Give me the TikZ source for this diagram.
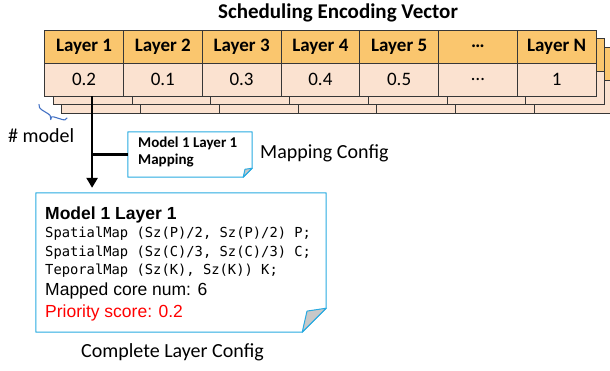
\documentclass[tikz,border=0pt]{standalone}
\usepackage{fontspec}
\setmainfont{Carlito}
\newfontfamily\arialfont{Liberation Sans}
\newfontfamily\codefont{DejaVu Sans Mono}
\usetikzlibrary{arrows.meta,calc}

\definecolor{hdrorange}{RGB}{250,198,110}
\definecolor{valpeach}{RGB}{251,226,208}
\definecolor{gridgray}{RGB}{55,55,55}
\definecolor{noteblue}{RGB}{40,170,225}
\definecolor{bracebl}{RGB}{68,114,196}
\definecolor{foldgray}{RGB}{200,200,200}
\definecolor{prioRed}{RGB}{255,0,0}

% outline of a note with a folded bottom-right corner, drawn round node #1
\newcommand\drawnote[2]{%
  \draw[noteblue, line width=1pt, line join=round]
    (#1.north west) -- (#1.north east) -- ($(#1.south east)+(0,-#2)$)
    -- ($(#1.south east)+(-#2,0)$) -- (#1.south west) -- cycle;
  \filldraw[draw=noteblue, fill=foldgray, line width=1pt, line join=round]
    ($(#1.south east)+(-#2,0)$) -- ($(#1.south east)+(0,-#2)$)
    -- ($(#1.south east)+(-0.8*#2,-0.88*#2)$) -- cycle;
}

\begin{document}
\begin{tikzpicture}[x=1pt,y=-1pt,
  cellbase/.style={draw=gridgray, line width=0.9pt, minimum width=78.76pt,
    minimum height=33pt, inner sep=0pt},
  hdrcell/.style={cellbase, fill=hdrorange, font=\fontsize{19}{22}\selectfont\bfseries},
  valcell/.style={cellbase, fill=valpeach, font=\fontsize{19}{22}\selectfont},
  notebox/.style={draw=none, inner sep=0pt},
  label/.style={anchor=base west, inner sep=0pt, font=\fontsize{20}{24}\selectfont},
  boxline/.style={anchor=base west, inner sep=0pt},
  flow/.style={line width=2.6pt, draw=black},
]
\useasboundingbox (0,0) rectangle (610,370);

% stacked copies of the vector behind the front one
\foreach \k in {2,1}{
  \pgfmathsetmacro\off{8.5*\k}
  \foreach \i in {0,...,6}{
    \filldraw[fill=hdrorange, draw=gridgray, line width=0.9pt]
      ({44.7+\off+\i*78.76},{30+\off}) rectangle ++(78.76,33);
    \filldraw[fill=valpeach, draw=gridgray, line width=0.9pt]
      ({44.7+\off+\i*78.76},{63+\off}) rectangle ++(78.76,33);
  }
}

% front vector: layer names and scores
\foreach \lab [count=\i] in {Layer 1,Layer 2,Layer 3,Layer 4,Layer 5,…,Layer N}
  \node[hdrcell] (h\i) at ({44.7+(\i-0.5)*78.76},46.5) {\lab};
\foreach \val [count=\i] in {0.2,0.1,0.3,0.4,0.5,…,1}
  \node[valcell] (v\i) at ({44.7+(\i-0.5)*78.76},79.5) {\val};

\node[font=\fontsize{21}{25}\selectfont\bfseries] (title) at (338,12.5)
  {Scheduling Encoding Vector};

% depth of the stack: a small slanted brace
\draw[bracebl, line width=1.1pt, line join=round, line cap=round]
  (39,104.5) .. controls (39.3,108) .. (42,110)
  -- (48.5,114) .. controls (50.3,115.2) .. (50.8,119.5)
  .. controls (51.4,116.4) .. (53.5,116.8)
  -- (62.5,119.6) .. controls (65,120.3) .. (67,118);
\node[label] (nmodel) at (8,142) {\# model};

% mapping note
\node[notebox, minimum width=124pt, minimum height=45pt] (map) at (190,154.5) {};
\drawnote{map}{9}
\node[boxline, font=\fontsize{15}{17}\selectfont\bfseries] (mapA) at (138,147) {Model 1 Layer 1};
\node[boxline, font=\fontsize{15}{17}\selectfont\bfseries] (mapB) at (138,164) {Mapping};
\node[label] (mapcfg) at (260,158) {Mapping Config};

% complete layer configuration note
\node[notebox, minimum width=290pt, minimum height=139pt] (cfg) at (181,262.5) {};
\drawnote{cfg}{24}
\node[boxline, font=\arialfont\fontsize{17.5}{20}\selectfont\bfseries] (cfgT) at (45,219) {Model 1 Layer 1};
\node[boxline, font=\codefont\fontsize{13.8}{16}\selectfont] (code1) at (45,237) {SpatialMap (Sz(P)/2, Sz(P)/2) P;};
\node[boxline, font=\codefont\fontsize{13.8}{16}\selectfont] (code2) at (45,256) {SpatialMap (Sz(C)/3, Sz(C)/3) C;};
\node[boxline, font=\codefont\fontsize{13.8}{16}\selectfont] (code3) at (45,274) {TeporalMap (Sz(K), Sz(K)) K;};
\node[boxline, font=\arialfont\fontsize{17.5}{20}\selectfont] (cores) at (45,295) {Mapped core num: 6};
\node[boxline, font=\arialfont\fontsize{17.5}{20}\selectfont, text=prioRed] (prio) at (45,317) {Priority score: 0.2};
\node[label] (cfgcap) at (81,357) {Complete Layer Config};

% flow from layer 1 down to its configuration
\coordinate (armtop) at ($(v1.south)+(8,0)$);
\draw[flow] (map.west) -- (map.west -| armtop);
\draw[flow, -{Triangle[width=11pt,length=10pt]}] (armtop) -- ($(armtop |- cfg.north)+(0,-5)$);
\end{tikzpicture}
\end{document}
